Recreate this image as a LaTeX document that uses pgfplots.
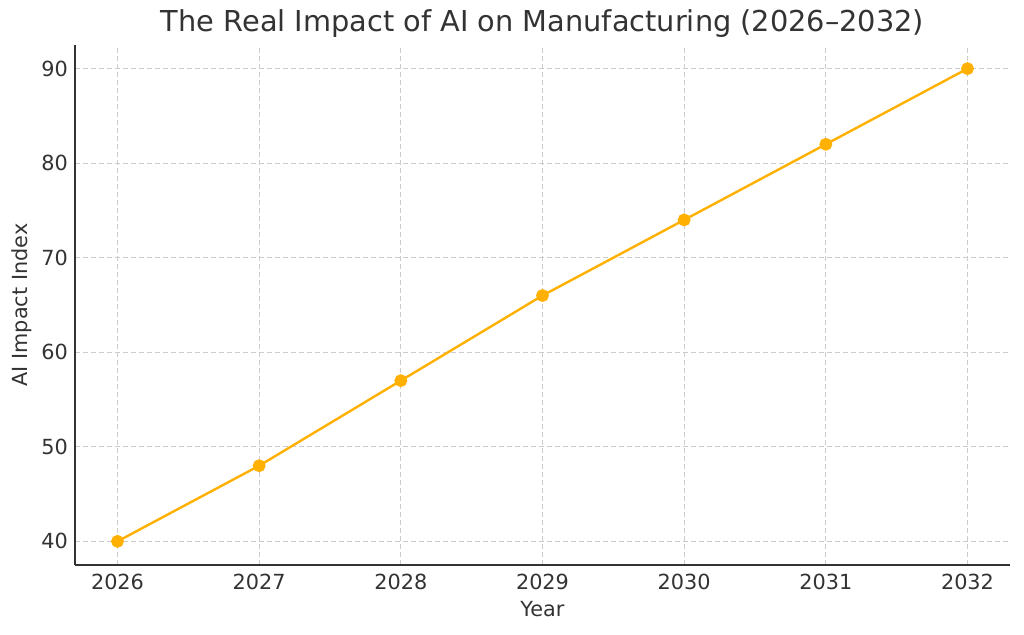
\documentclass[border=0pt]{standalone}
\usepackage{pgfplots}
\pgfplotsset{compat=1.18}
\usepackage{fontspec}
\setmainfont{DejaVu Sans}
\definecolor{lineorange}{HTML}{FFB000}
\definecolor{txt}{HTML}{333333}
\definecolor{gridc}{HTML}{CCCCCC}
\begin{document}
\begin{tikzpicture}
\useasboundingbox (-37.5pt,-35pt) rectangle (474.5pt,282.5pt);
\begin{axis}[
    at={(0,0)}, anchor=south west,
    scale only axis,
    width=467.5pt, height=260pt,
    xmin=2025.7, xmax=2032.3,
    ymin=37.5, ymax=92.5,
    xtick={2026,2027,2028,2029,2030,2031,2032},
    ytick={40,50,60,70,80,90},
    /pgf/number format/1000 sep=,
    /pgf/number format/assume math mode=true,
    tick style={draw=none},
    axis x line*=bottom, axis y line*=left,
    axis line style={draw=txt, line width=0.7pt, -},
    grid=major,
    major grid style={gridc, dash pattern=on 2.5pt off 1.5pt, line width=0.4pt},
    tick label style={font=\fontsize{10.4}{12}\selectfont, text=txt},
    xticklabel style={yshift=-1pt},
    label style={font=\fontsize{10.4}{12}\selectfont, text=txt},
    xlabel={Year},
    ylabel={AI Impact Index},
    xlabel style={yshift=1pt},
    ylabel style={yshift=-2pt},
    title={The Real Impact of AI on Manufacturing (2026–2032)},
    title style={font=\fontsize{14.4}{16}\selectfont, text=txt, yshift=-6pt},
]
\addplot[color=lineorange, line width=1.2pt, mark=*, mark size=2.6pt, mark options={fill=lineorange, draw=lineorange}]
coordinates {
(2026, 40)
(2027, 48)
(2028, 57)
(2029, 66)
(2030, 74)
(2031, 82)
(2032, 90)
};
\end{axis}
\end{tikzpicture}
\end{document}
